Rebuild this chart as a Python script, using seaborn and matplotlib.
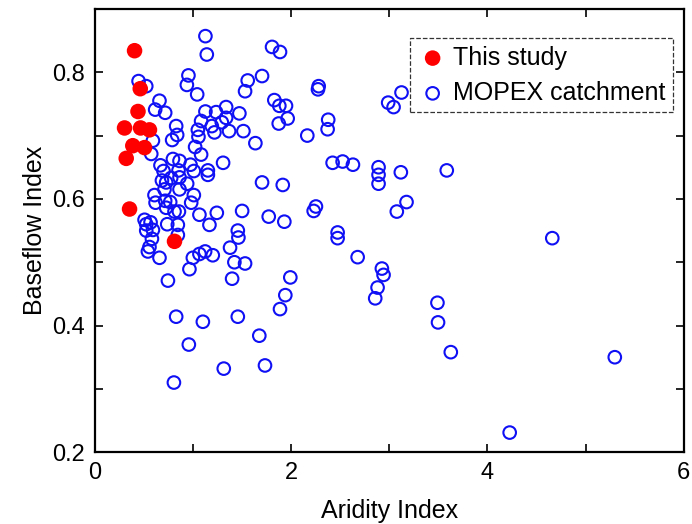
import numpy as np
import pandas as pd
import seaborn as sns
from matplotlib import pyplot as plt
from matplotlib.ticker import MultipleLocator

# this study (red)
study_ai = [0.405, 0.463, 0.440, 0.303, 0.466, 0.557, 0.387, 0.507, 0.320, 0.354, 0.812]
study_bfi = [0.834, 0.774, 0.738, 0.712, 0.712, 0.709, 0.684, 0.681, 0.664, 0.584, 0.533]

# MOPEX catchments (blue)
mopex_ai = [
    1.127, 1.141, 0.446, 0.524, 0.954, 0.938, 1.043, 0.659, 0.615, 0.717,
    1.127, 1.236, 1.338, 1.338, 1.083, 1.192, 1.294, 1.050, 0.829, 0.839,
    0.788, 1.056, 1.219, 1.368, 0.592, 1.022, 0.575, 1.083, 0.669, 0.796,
    0.863, 0.700, 0.853, 0.975, 1.009, 1.152, 1.152, 1.307, 0.727, 0.684,
    0.778, 0.863, 0.941, 0.863, 0.710, 0.608, 0.619, 0.717, 0.768, 0.727,
    1.009, 0.982, 0.812, 0.857, 1.066, 1.243, 1.168, 0.507, 0.568, 0.524,
    0.524, 0.738, 0.846, 0.846, 0.592, 0.582, 0.557, 0.541, 0.659, 0.999,
    1.066, 1.124, 1.202, 1.378, 0.964, 1.422, 1.531, 0.745, 1.399, 1.992,
    1.941, 1.887, 0.829, 1.101, 1.457, 1.676, 0.958, 1.314, 1.734, 0.806,
    1.806, 1.887, 1.704, 1.558, 1.531, 2.281, 2.274, 1.829, 1.880, 1.948,
    1.965, 1.874, 1.473, 1.514, 1.636, 2.165, 2.378, 2.372, 2.423, 2.525,
    2.630, 1.704, 1.915, 2.253, 2.230, 1.501, 1.772, 1.931, 1.457, 1.463,
    2.474, 2.474, 2.678, 2.925, 2.942, 2.881, 2.857, 3.491, 3.497, 3.627,
    3.125, 2.989, 3.044, 2.891, 2.891, 2.891, 3.118, 3.586, 3.176, 3.077,
    4.661, 5.298, 4.227,
]
mopex_bfi = [
    0.857, 0.828, 0.786, 0.778, 0.795, 0.780, 0.765, 0.755, 0.741, 0.736,
    0.738, 0.737, 0.745, 0.728, 0.723, 0.715, 0.721, 0.709, 0.715, 0.701,
    0.693, 0.698, 0.705, 0.707, 0.692, 0.682, 0.671, 0.670, 0.653, 0.663,
    0.660, 0.644, 0.645, 0.654, 0.644, 0.645, 0.638, 0.657, 0.626, 0.629,
    0.633, 0.634, 0.624, 0.615, 0.615, 0.606, 0.594, 0.597, 0.595, 0.586,
    0.606, 0.594, 0.580, 0.580, 0.575, 0.578, 0.559, 0.567, 0.563, 0.560,
    0.550, 0.560, 0.559, 0.543, 0.551, 0.537, 0.524, 0.517, 0.507, 0.507,
    0.513, 0.517, 0.511, 0.523, 0.489, 0.500, 0.498, 0.471, 0.474, 0.476,
    0.448, 0.426, 0.414, 0.406, 0.414, 0.384, 0.370, 0.332, 0.337, 0.310,
    0.840, 0.832, 0.794, 0.787, 0.770, 0.778, 0.773, 0.756, 0.747, 0.747,
    0.727, 0.719, 0.735, 0.707, 0.688, 0.700, 0.725, 0.710, 0.657, 0.659,
    0.654, 0.626, 0.622, 0.588, 0.581, 0.581, 0.572, 0.564, 0.550, 0.539,
    0.547, 0.538, 0.508, 0.490, 0.480, 0.460, 0.443, 0.436, 0.405, 0.358,
    0.768, 0.752, 0.745, 0.650, 0.638, 0.624, 0.642, 0.645, 0.595, 0.580,
    0.538, 0.350, 0.231,
]

sns.set_style("ticks")
plt.rcParams['font.family'] = ['Liberation Sans', 'DejaVu Sans']
plt.rcParams['text.color'] = 'black'
plt.rcParams['axes.labelcolor'] = 'black'
plt.rcParams['xtick.color'] = 'black'
plt.rcParams['ytick.color'] = 'black'

fig = plt.figure(figsize=(6.92, 5.24), dpi=100)
ax = fig.add_axes([0.137, 0.137, 0.851, 0.846])

mopex = pd.DataFrame({'ai': mopex_ai, 'bfi': mopex_bfi})
study = pd.DataFrame({'ai': study_ai, 'bfi': study_bfi})

sns.scatterplot(data=mopex, x='ai', y='bfi', ax=ax, marker='o', s=82,
                facecolor='none', edgecolor='#1010f5', linewidth=1.5,
                label='MOPEX catchment', zorder=2)
sns.scatterplot(data=study, x='ai', y='bfi', ax=ax, marker='o', s=125,
                color='#ff0000', edgecolor='none', linewidth=0,
                label='This study', zorder=3)

ax.set_xlim(0, 6)
ax.set_ylim(0.2, 0.9)
ax.xaxis.set_major_locator(MultipleLocator(2))
ax.xaxis.set_minor_locator(MultipleLocator(1))
ax.yaxis.set_major_locator(MultipleLocator(0.2))
ax.yaxis.set_minor_locator(MultipleLocator(0.1))
ax.tick_params(which='both', direction='in', top=True, right=True,
               length=6, width=1.2, labelsize=17, pad=7, color='black',
               labelcolor='black')
for sp in ax.spines.values():
    sp.set_visible(True)
    sp.set_linewidth(1.6)
    sp.set_color('black')

ax.set_xlabel('Aridity Index', fontsize=18, labelpad=11)
ax.set_ylabel('Baseflow Index', fontsize=18, labelpad=4)

handles, labels = ax.get_legend_handles_labels()
leg = ax.legend(handles[::-1], labels[::-1], loc='upper right',
                bbox_to_anchor=(0.981, 0.934), borderaxespad=0,
                fontsize=18, frameon=True, fancybox=False,
                handletextpad=0.2, borderpad=0.3, labelspacing=0.45,
                handlelength=1.2)
frame = leg.get_frame()
frame.set_edgecolor('black')
frame.set_linestyle('--')
frame.set_linewidth(0.9)

fig.savefig('out.png', dpi=100)
